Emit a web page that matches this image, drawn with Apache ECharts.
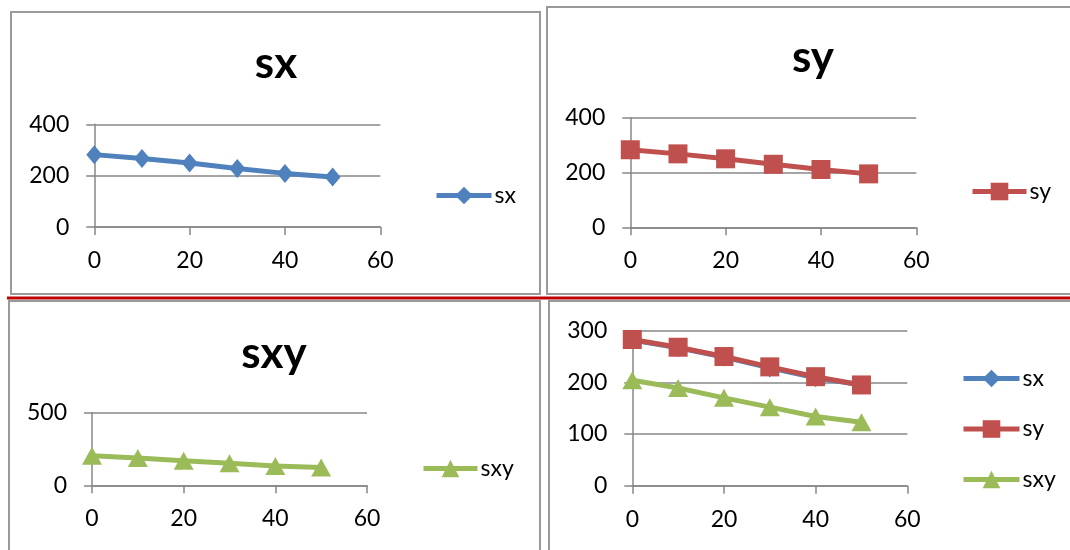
<!DOCTYPE html>
<html>
<head>
<meta charset="utf-8">
<script src="https://cdn.jsdelivr.net/npm/echarts@6/dist/echarts.min.js"></script>
<style>
html,body{margin:0;padding:0;background:#fff;}
#c{width:1070px;height:550px;}
</style>
</head>
<body>
<div id="c"></div>
<script>
// ---- data ----
var xValues = [0, 10, 20, 30, 40, 50];
var sxValues = [282, 267, 249, 228, 209, 195];
var syValues = [283, 268, 250, 230, 211, 195];
var sxyValues = [204, 189, 170, 152, 134, 123];
var xTicks = [0, 20, 40, 60];
var titles = ['sx', 'sy', 'sxy'];

var FONT = 'Lato, "Open Sans", sans-serif';
var GRAY = '#878787';
var BORDER = '#9a9a9a';
var C_SX = '#4F81BD', C_SY = '#C0504D', C_SXY = '#9BBB59';
var FS = 23;

function pairs(vals) { return xValues.map(function (x, i) { return [x, vals[i]]; }); }

var grids = [
  {left: 94.3, top: 124.3, width: 286, height: 102.8},
  {left: 630.3, top: 117.7, width: 286, height: 109.6},
  {left: 92, top: 413, width: 275, height: 72.3},
  {left: 632.3, top: 330.7, width: 275, height: 155}
];
var yCfg = [
  {max: 400, interval: 200},
  {max: 400, interval: 200},
  {max: 500, interval: 500},
  {max: 300, interval: 100}
];

var xAxes = grids.map(function (g, i) {
  return {
    type: 'value', gridIndex: i, min: 0, max: 60, interval: 20,
    axisLine: {show: true, lineStyle: {color: GRAY, width: 1.5}},
    axisTick: {show: true, length: 8, lineStyle: {color: GRAY, width: 1.5}},
    splitLine: {show: false},
    axisLabel: {color: '#000', fontSize: FS, fontFamily: FONT, margin: 22,
      formatter: function (v) { return xTicks.indexOf(v) >= 0 ? String(v) : ''; }}
  };
});
var yAxes = grids.map(function (g, i) {
  return {
    type: 'value', gridIndex: i, min: 0, max: yCfg[i].max, interval: yCfg[i].interval,
    axisLine: {show: true, lineStyle: {color: GRAY, width: 1.5}},
    axisTick: {show: true, length: 8, lineStyle: {color: GRAY, width: 1.5}},
    splitLine: {show: true, lineStyle: {color: GRAY, width: 1.5}},
    axisLabel: {color: '#000', fontSize: FS, fontFamily: FONT, margin: 25}
  };
});

function mkSeries(name, vals, color, symbol, size, idx) {
  return {
    type: 'line', name: name, xAxisIndex: idx, yAxisIndex: idx,
    data: pairs(vals), symbol: symbol, symbolSize: size,
    showAllSymbol: true,
    lineStyle: {color: color, width: 5},
    itemStyle: {color: color},
    emphasis: {disabled: true}
  };
}

var series = [
  mkSeries('sx', sxValues, C_SX, 'diamond', [16, 19], 0),
  mkSeries('sy', syValues, C_SY, 'rect', 19, 1),
  mkSeries('sxy', sxyValues, C_SXY, 'triangle', [20, 18], 2),
  mkSeries('sx', sxValues, C_SX, 'diamond', [16, 19], 3),
  mkSeries('sy', syValues, C_SY, 'rect', 19, 3),
  mkSeries('sxy', sxyValues, C_SXY, 'triangle', [20, 18], 3)
];

var legendBase = {
  itemHeight: 22, padding: 0, selectedMode: false, itemGap: 28,
  lineStyle: {width: 5},
  textStyle: {color: '#000', fontSize: FS, fontFamily: FONT, padding: [0, 0, 0, -2]}
};
function lg(o) { return Object.assign({}, legendBase, o); }
var legends = [
  lg({data: ['sx'], left: 434, top: 184, itemWidth: 55}),
  lg({data: ['sy'], left: 970, top: 180, itemWidth: 54}),
  lg({data: ['sxy'], left: 421, top: 457, itemWidth: 54}),
  lg({data: ['sx', 'sy', 'sxy'], left: 961, top: 367, orient: 'vertical', itemWidth: 56, itemGap: 27.5})
];

function panel(x, y, w, h) {
  return {type: 'rect', shape: {x: x, y: y, width: w, height: h}, silent: true,
    style: {fill: 'none', stroke: BORDER, lineWidth: 2}};
}
function ttl(text, x, y) {
  return {type: 'text', x: x, y: y, silent: true,
    style: {text: text, fill: '#000', font: 'bold 44px ' + FONT, textAlign: 'center', textVerticalAlign: 'middle'}};
}

var chart = echarts.init(document.getElementById('c'));
chart.setOption({
  animation: false,
  backgroundColor: '#fff',
  grid: grids.map(function (g) { return Object.assign({containLabel: false}, g); }),
  xAxis: xAxes,
  yAxis: yAxes,
  legend: legends,
  series: series,
  graphic: [
    panel(11, 12, 529, 282),
    panel(547, 7, 530, 287),
    panel(9, 301, 531, 260),
    panel(549, 301, 530, 260),
    {type: 'line', shape: {x1: 7, y1: 298, x2: 1070, y2: 298}, silent: true,
      style: {stroke: '#C00000', lineWidth: 3}},
    ttl(titles[0], 276, 64),
    ttl(titles[1], 813, 58),
    ttl(titles[2], 274, 354)
  ]
});
</script>
</body>
</html>
